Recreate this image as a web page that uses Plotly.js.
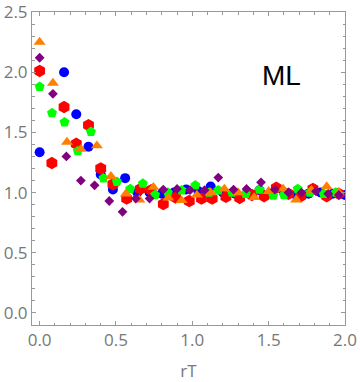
<!DOCTYPE html>
<html>
<head>
<meta charset="utf-8">
<script src="https://cdn.plot.ly/plotly-3.0.1.min.js"></script>
<style>html,body{margin:0;padding:0;background:#fff;}#chart{width:360px;height:382px;}</style>
</head>
<body>
<div id="chart"></div>
<script>
// Blue circles
var blueX = [0, 0.16, 0.24, 0.32, 0.40, 0.48, 0.56, 0.64, 0.72, 0.80, 0.88, 0.96, 1.04, 1.12, 1.20, 1.28, 1.36, 1.44, 1.52, 1.60, 1.68, 1.76, 1.84, 1.92, 2.00];
var blueY = [1.335, 2.00, 1.65, 1.38, 1.15, 1.025, 1.12, 1.00, 1.00, 0.99, 1.00, 1.025, 1.01, 1.05, 1.00, 0.99, 1.00, 1.02, 0.99, 1.00, 0.98, 0.99, 1.00, 0.99, 0.98];
// Red hexagons
var redX = [0, 0.08, 0.16, 0.24, 0.32, 0.40, 0.48, 0.57, 0.66, 0.73, 0.81, 0.89, 0.98, 1.06, 1.13, 1.22, 1.31, 1.39, 1.47, 1.55, 1.63, 1.71, 1.79, 1.88, 1.96];
var redY = [2.01, 1.245, 1.71, 1.405, 1.56, 1.20, 1.07, 0.95, 1.03, 1.02, 0.905, 0.96, 0.93, 0.95, 0.95, 0.965, 0.955, 0.98, 0.97, 1.04, 0.99, 0.97, 1.03, 0.97, 0.99];
// Green pentagons
var greenX = [0, 0.081, 0.163, 0.25, 0.336, 0.418, 0.506, 0.593, 0.676, 0.756, 0.84, 0.93, 1.02, 1.11, 1.17, 1.26, 1.35, 1.44, 1.53, 1.60, 1.69, 1.77, 1.86, 1.94];
var greenY = [1.88, 1.66, 1.585, 1.345, 1.505, 1.12, 1.09, 1.03, 1.075, 0.98, 1.00, 1.02, 1.06, 1.00, 1.02, 1.00, 0.99, 1.025, 0.975, 0.98, 1.03, 1.00, 0.99, 1.00];
// Orange triangles
var orangeX = [0, 0.087, 0.179, 0.27, 0.375, 0.467, 0.565, 0.653, 0.745, 0.843, 0.93, 1.03, 1.12, 1.21, 1.30, 1.405, 1.50, 1.595, 1.68, 1.78, 1.88, 1.96];
var orangeY = [2.25, 1.91, 1.42, 1.36, 1.39, 1.135, 0.99, 0.94, 1.045, 0.955, 0.935, 0.98, 1.00, 1.03, 1.00, 0.96, 1.01, 1.03, 0.94, 1.02, 1.05, 1.00];
// Purple diamonds
var purpleX = [0, 0.087, 0.175, 0.27, 0.36, 0.456, 0.543, 0.63, 0.72, 0.81, 0.90, 0.985, 1.08, 1.17, 1.27, 1.355, 1.45, 1.54, 1.63, 1.715, 1.81, 1.89, 1.96];
var purpleY = [2.12, 1.82, 1.30, 1.10, 1.06, 0.93, 0.84, 0.95, 0.95, 1.025, 1.03, 1.02, 1.02, 1.125, 1.025, 1.03, 1.085, 1.025, 1.00, 1.00, 1.01, 0.99, 0.98];

var xTicks = [0, 0.5, 1.0, 1.5, 2.0];
var xTickText = ['0.0', '0.5', '1.0', '1.5', '2.0'];
var yTicks = [0, 0.5, 1.0, 1.5, 2.0, 2.5];
var yTickText = ['0.0', '0.5', '1.0', '1.5', '2.0', '2.5'];

function tr(x, y, color, symbol, size) {
  return {x: x, y: y, type: 'scatter', mode: 'markers', showlegend: false, hoverinfo: 'skip',
    marker: {color: color, symbol: symbol, size: size, line: {width: 0}}};
}
var data = [
  tr(blueX, blueY, '#0000ff', 'circle', 10),
  tr(redX, redY, '#ff0000', 'hexagon', 12.5),
  tr(greenX, greenY, '#00ff00', 'pentagon', 10.5),
  tr(orangeX, orangeY, '#ff8000', 'triangle-up', 10.5),
  tr(purpleX, purpleY, '#800080', 'diamond', 7.5)
];

var tickFont = {family: 'Open Sans, sans-serif', size: 17, color: '#777777'};
var axisCommon = {
  showline: true, linecolor: '#999999', linewidth: 1, mirror: 'allticks',
  ticks: 'inside', ticklen: 4, tickwidth: 1, tickcolor: '#999999',
  showgrid: false, zeroline: false,
  tickfont: tickFont, ticklabeloverflow: 'allow'
};

var layout = {
  width: 360, height: 382,
  margin: {l: 32, r: 15, t: 12, b: 57},
  paper_bgcolor: '#ffffff', plot_bgcolor: '#ffffff',
  xaxis: Object.assign({}, axisCommon, {
    range: [-0.05, 2.0], tickmode: 'array', tickvals: xTicks, ticktext: xTickText,
    minor: {ticks: 'inside', tick0: 0, dtick: 0.1, ticklen: 2.5, tickcolor: '#999999', showgrid: false},
    title: {text: 'rT', font: tickFont, standoff: 14}
  }),
  yaxis: Object.assign({}, axisCommon, {
    range: [-0.1, 2.5], tickmode: 'array', tickvals: yTicks, ticktext: yTickText,
    minor: {ticks: 'inside', tick0: 0, dtick: 0.1, ticklen: 2.5, tickcolor: '#999999', showgrid: false}
  }),
  annotations: [{
    x: 1.586, y: 1.97, xref: 'x', yref: 'y', text: 'ML', showarrow: false,
    font: {family: 'Liberation Sans, Arial, sans-serif', size: 28, color: '#000000'}
  }]
};

Plotly.newPlot('chart', data, layout, {staticPlot: true, displayModeBar: false});
</script>
</body>
</html>
